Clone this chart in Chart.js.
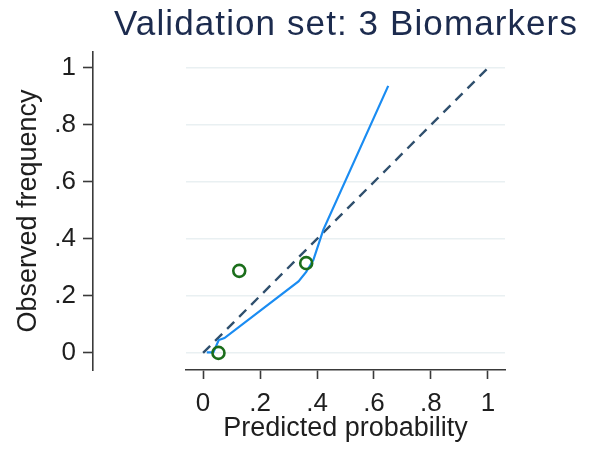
<!DOCTYPE html>
<html>
<head>
<meta charset="utf-8">
<script src="https://cdn.jsdelivr.net/npm/chart.js@4/dist/chart.umd.min.js"></script>
<style>
  html, body { margin: 0; padding: 0; background: #ffffff; }
  #wrap { width: 595px; height: 451px; position: relative; }
</style>
</head>
<body>
<div id="wrap"><canvas id="c" width="595" height="451"></canvas></div>
<script>
// ---- data ----
const titleText = 'Validation set: 3 Biomarkers';
const xTitle = 'Predicted probability';
const yTitle = 'Observed frequency';
const tickValues = [0, 0.2, 0.4, 0.6, 0.8, 1];
const tickLabels = ['0', '.2', '.4', '.6', '.8', '1'];

const obsX = [0.054, 0.127, 0.362];
const obsY = [0.0, 0.288, 0.315];

const lowessX = [0.013, 0.036, 0.055, 0.075, 0.335, 0.362, 0.387, 0.422, 0.650];
const lowessY = [0.002, 0.002, 0.045, 0.052, 0.251, 0.284, 0.326, 0.432, 0.937];

const refX = [0, 1];
const refY = [0, 1];

const toPts = (xs, ys) => xs.map((x, i) => ({ x: x, y: ys[i] }));
const fmt = v => {
  const i = tickValues.findIndex(t => Math.abs(t - v) < 1e-9);
  return i >= 0 ? tickLabels[i] : '';
};
const setTicks = scale => { scale.ticks = tickValues.map(v => ({ value: v })); };

const FONT = 'Arial, "Liberation Sans", Helvetica, sans-serif';
const AXIS_COLOR = '#3a3a3a';
const TEXT_COLOR = '#1e1e1e';

const titlePlugin = {
  id: 'plotTitle',
  afterDraw(chart) {
    const { ctx, chartArea } = chart;
    ctx.save();
    ctx.font = '35px ' + FONT;
    try { ctx.letterSpacing = '1.1px'; } catch (e) {}
    ctx.fillStyle = '#1c2b4e';
    ctx.textAlign = 'center';
    ctx.textBaseline = 'middle';
    ctx.fillText(titleText, (chartArea.left + chartArea.right) / 2 + 0.5, 25.5);
    ctx.restore();
  }
};

new Chart(document.getElementById('c'), {
  type: 'scatter',
  data: {
    datasets: [
      {
        label: 'Observed',
        data: toPts(obsX, obsY),
        showLine: false,
        pointStyle: 'circle',
        pointRadius: 6,
        pointBorderWidth: 2.6,
        pointBorderColor: '#1b6e1b',
        pointBackgroundColor: 'rgba(0,0,0,0)',
        order: 0
      },
      {
        label: 'Lowess',
        data: toPts(lowessX, lowessY),
        showLine: true,
        borderColor: '#1a8cf2',
        borderWidth: 2.2,
        pointRadius: 0,
        tension: 0,
        order: 1
      },
      {
        label: 'Reference',
        data: toPts(refX, refY),
        showLine: true,
        borderColor: '#30506e',
        borderWidth: 2.4,
        borderDash: [10, 7],
        pointRadius: 0,
        order: 2
      }
    ]
  },
  options: {
    responsive: false,
    animation: false,
    devicePixelRatio: 1,
    layout: { padding: { left: 10, right: 90, top: 52, bottom: 0 } },
    plugins: {
      legend: { display: false },
      tooltip: { enabled: false },
      title: { display: false }
    },
    scales: {
      x: {
        type: 'linear',
        position: 'bottom',
        min: -0.06,
        max: 1.06,
        afterBuildTicks: setTicks,
        afterFit: s => { s.height = 81; },
        border: { display: true, color: AXIS_COLOR, width: 1.6 },
        grid: { drawOnChartArea: false, drawTicks: true, tickLength: 9, tickWidth: 1.6, tickColor: AXIS_COLOR },
        ticks: {
          padding: 9,
          color: TEXT_COLOR,
          font: { family: FONT, size: 26 },
          maxRotation: 0,
          autoSkip: false,
          callback: v => fmt(v)
        },
        title: {
          display: true,
          text: xTitle,
          color: TEXT_COLOR,
          font: { family: FONT, size: 27 },
          padding: { top: 0, bottom: 6 }
        }
      },
      y: {
        type: 'linear',
        position: 'left',
        weight: 0,
        min: -0.06,
        max: 1.056,
        afterBuildTicks: setTicks,
        afterFit: s => { s.width = 93; },
        border: { display: false },
        grid: { drawOnChartArea: true, drawTicks: false, color: '#e9f0f2', lineWidth: 1.6 },
        ticks: { display: false }
      },
      y2: {
        type: 'linear',
        position: 'left',
        weight: 1,
        min: -0.06,
        max: 1.056,
        afterBuildTicks: setTicks,
        afterFit: s => { s.width = 83; },
        border: { display: true, color: AXIS_COLOR, width: 1.6 },
        grid: { drawOnChartArea: false, drawTicks: true, tickLength: 10, tickWidth: 1.6, tickColor: AXIS_COLOR },
        ticks: {
          padding: 7,
          color: TEXT_COLOR,
          font: { family: FONT, size: 26 },
          autoSkip: false,
          callback: v => fmt(v)
        },
        title: {
          display: true,
          text: yTitle,
          color: TEXT_COLOR,
          font: { family: FONT, size: 27 },
          padding: { top: 2, bottom: 0 }
        }
      }
    }
  },
  plugins: [titlePlugin]
});
</script>
</body>
</html>
